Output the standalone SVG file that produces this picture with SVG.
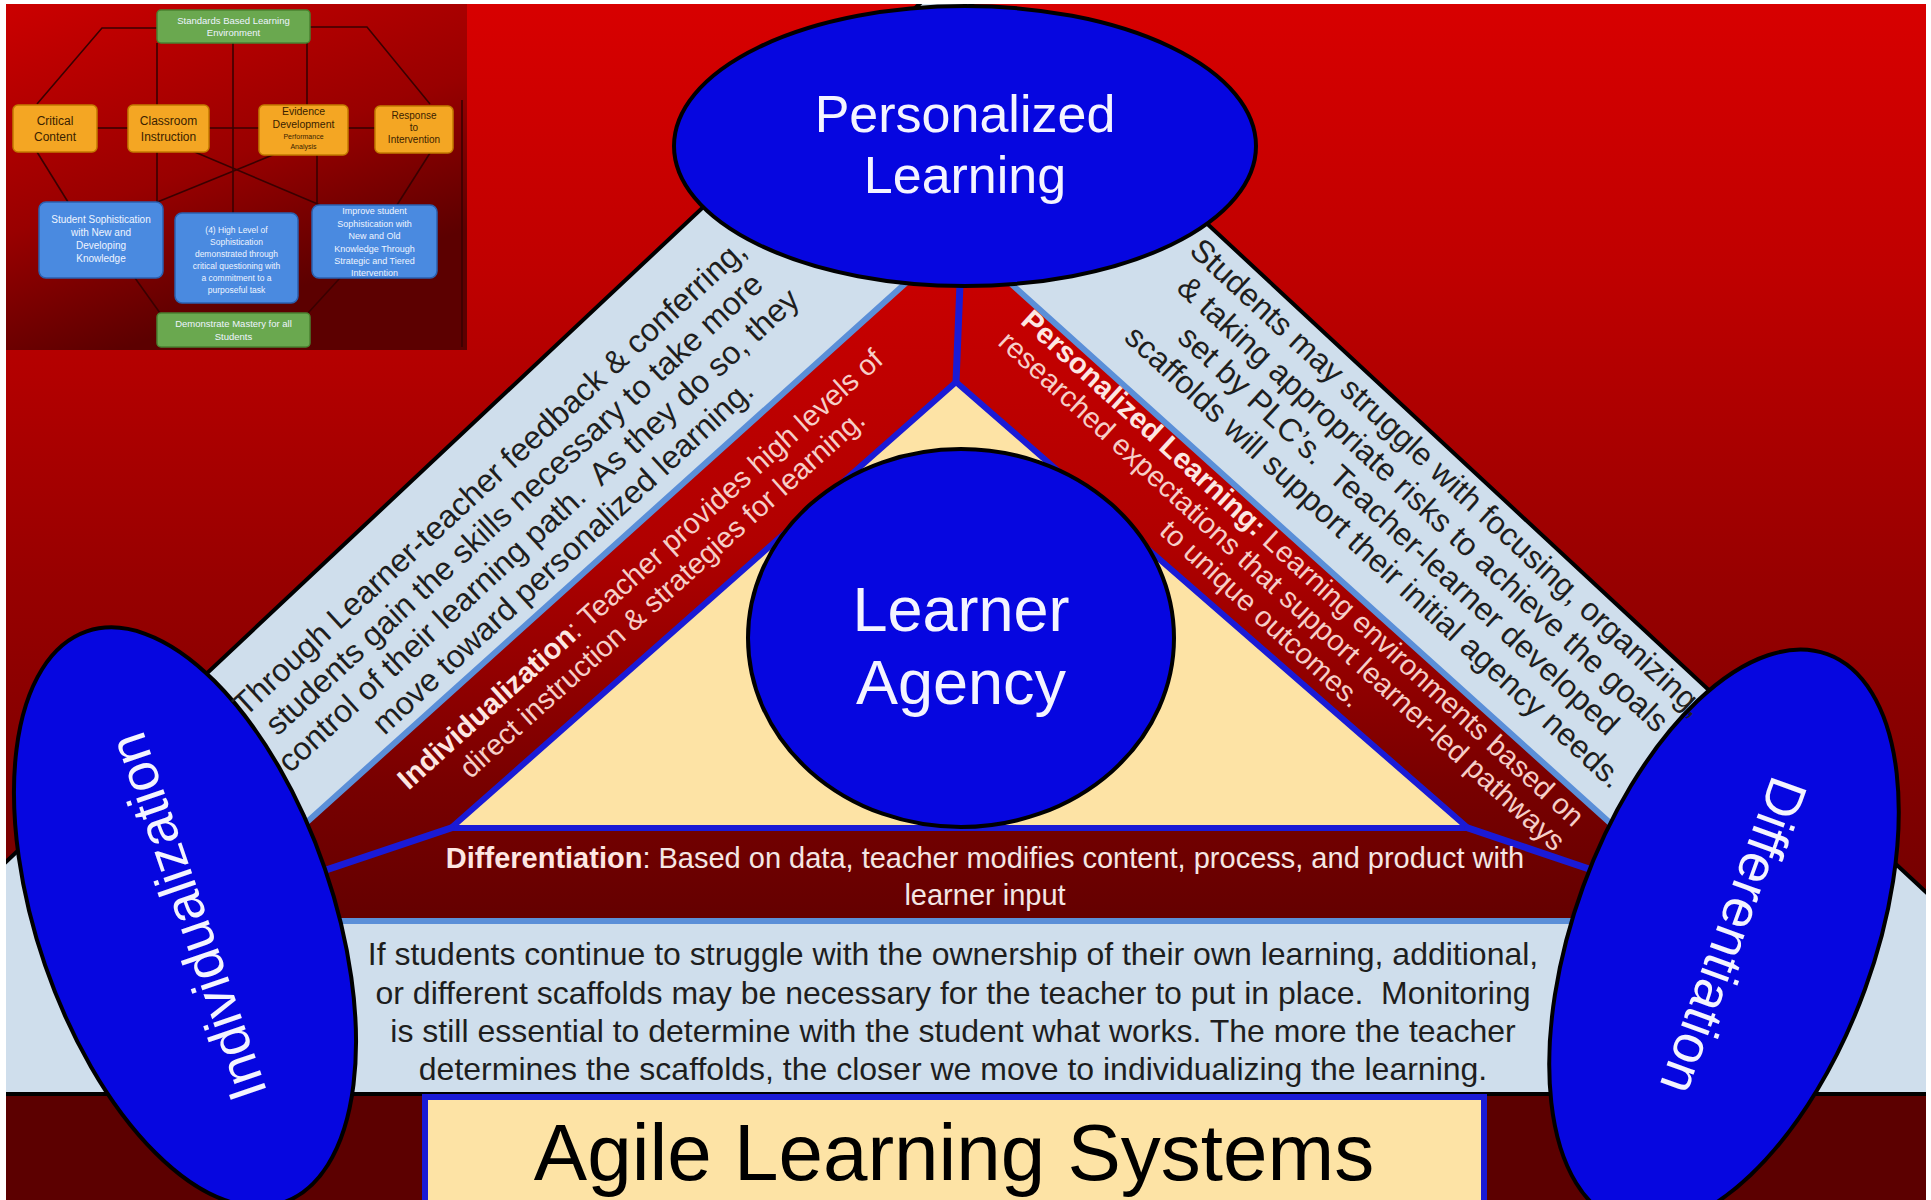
<svg xmlns="http://www.w3.org/2000/svg" width="1931" height="1200" viewBox="0 0 1931 1200">
<defs>
<linearGradient id="bg" gradientUnits="userSpaceOnUse" x1="0" y1="0" x2="0" y2="1094">
<stop offset="0" stop-color="#d80000"/><stop offset="0.25" stop-color="#bf0000"/><stop offset="0.53" stop-color="#980000"/><stop offset="1" stop-color="#600000"/>
</linearGradient>
<linearGradient id="inner" gradientUnits="userSpaceOnUse" x1="0" y1="236" x2="0" y2="921">
<stop offset="0" stop-color="#cc0000"/><stop offset="0.45" stop-color="#b00000"/><stop offset="0.8" stop-color="#780000"/><stop offset="1" stop-color="#640000"/>
</linearGradient>
<linearGradient id="insetbg" gradientUnits="userSpaceOnUse" x1="0" y1="4" x2="120" y2="350">
<stop offset="0" stop-color="#cc0000"/><stop offset="0.6" stop-color="#990000"/><stop offset="1" stop-color="#5c0000"/>
</linearGradient>
<style>
.f{font-family:"Liberation Sans",Arial,sans-serif}
.ell{fill:#0606e0;stroke:#000;stroke-width:4}
.lbl{fill:#f4f4ff;text-anchor:middle;font-family:"Liberation Sans",Arial,sans-serif}
.dark{fill:#1e1e1e;text-anchor:middle;font-family:"Liberation Sans",Arial,sans-serif;font-size:32px}
.redt{fill:#f6cec8;text-anchor:middle;font-family:"Liberation Sans",Arial,sans-serif;font-size:29px}
.b{font-weight:bold;fill:#fde6e2}
.bl{stroke:#1a1ad6;stroke-width:7;fill:none;stroke-linecap:round}
.iline{stroke:#3a0000;stroke-width:1.6;fill:none}
.org{fill:#f4a623;stroke:#c27a00;stroke-width:1.5}
.blu{fill:#4a8ae0;stroke:#2a60b0;stroke-width:1.5}
.grn{fill:#6aa84f;stroke:#4a8030;stroke-width:1.5}
.ot{fill:#3a2200;text-anchor:middle;font-family:"Liberation Sans",Arial,sans-serif}
.wt{fill:#eef4ff;text-anchor:middle;font-family:"Liberation Sans",Arial,sans-serif}
</style>
</defs>
<rect x="0" y="0" width="1931" height="1200" fill="#ffffff"/>
<rect x="0" y="0" width="1931" height="1200" fill="url(#bg)"/>

<g id="inset">
<rect x="6" y="4" width="461" height="346" fill="url(#insetbg)"/>
<g class="iline">
<polyline points="157,28 102,28 37,104"/>
<polyline points="310,27 367,27 430,104"/>
<line x1="157" y1="43" x2="157" y2="105"/>
<line x1="233" y1="43" x2="233" y2="213"/>
<line x1="307" y1="43" x2="307" y2="105"/>
<line x1="97" y1="128" x2="128" y2="128"/>
<line x1="209" y1="128" x2="259" y2="128"/>
<line x1="348" y1="128" x2="375" y2="128"/>
<line x1="190" y1="150" x2="320" y2="205"/>
<line x1="280" y1="152" x2="150" y2="205"/>
<line x1="37" y1="152" x2="68" y2="202"/>
<line x1="157" y1="152" x2="157" y2="202"/>
<line x1="317" y1="155" x2="317" y2="205"/>
<line x1="430" y1="153" x2="397" y2="205"/>
<line x1="135" y1="278" x2="160" y2="313"/>
<line x1="340" y1="278" x2="308" y2="313"/>
<line x1="462" y1="100" x2="462" y2="347"/>
</g>
<rect class="grn" x="157" y="10" width="153" height="33" rx="4"/>
<text class="wt" font-size="9.5"><tspan x="233.5" y="24">Standards Based Learning</tspan><tspan x="233.5" y="36">Environment</tspan></text>
<rect class="org" x="13" y="105" width="84" height="47" rx="5"/>
<text class="ot" font-size="12"><tspan x="55" y="125">Critical</tspan><tspan x="55" y="141">Content</tspan></text>
<rect class="org" x="128" y="105" width="81" height="47" rx="5"/>
<text class="ot" font-size="12"><tspan x="168.5" y="125">Classroom</tspan><tspan x="168.5" y="141">Instruction</tspan></text>
<rect class="org" x="259" y="105" width="89" height="50" rx="5"/>
<text class="ot" font-size="10.5"><tspan x="303.5" y="115">Evidence</tspan><tspan x="303.5" y="128">Development</tspan></text>
<text class="ot" font-size="7"><tspan x="303.5" y="139">Performance</tspan><tspan x="303.5" y="149">Analysis</tspan></text>
<rect class="org" x="375" y="106" width="78" height="47" rx="5"/>
<text class="ot" font-size="10"><tspan x="414" y="119">Response</tspan><tspan x="414" y="131">to</tspan><tspan x="414" y="143">Intervention</tspan></text>
<rect class="blu" x="39" y="202" width="124" height="76" rx="7"/>
<text class="wt" font-size="10"><tspan x="101" y="223">Student Sophistication</tspan><tspan x="101" y="236">with New and</tspan><tspan x="101" y="249">Developing</tspan><tspan x="101" y="262">Knowledge</tspan></text>
<rect class="blu" x="175" y="213" width="123" height="90" rx="7"/>
<text class="wt" font-size="8.5"><tspan x="236.5" y="233">(4) High Level of</tspan><tspan x="236.5" y="245">Sophistication</tspan><tspan x="236.5" y="257">demonstrated through</tspan><tspan x="236.5" y="269">critical questioning with</tspan><tspan x="236.5" y="281">a commitment to a</tspan><tspan x="236.5" y="293">purposeful task</tspan></text>
<rect class="blu" x="312" y="205" width="125" height="73" rx="7"/>
<text class="wt" font-size="9"><tspan x="374.5" y="214">Improve student</tspan><tspan x="374.5" y="226.5">Sophistication with</tspan><tspan x="374.5" y="239">New and Old</tspan><tspan x="374.5" y="251.5">Knowledge Through</tspan><tspan x="374.5" y="264">Strategic and Tiered</tspan><tspan x="374.5" y="276">Intervention</tspan></text>
<rect class="grn" x="157" y="313" width="153" height="34" rx="4"/>
<text class="wt" font-size="9.5"><tspan x="233.5" y="327">Demonstrate Mastery for all</tspan><tspan x="233.5" y="340">Students</tspan></text>
</g>

<g id="frame">
<rect x="0" y="1094" width="1931" height="106" fill="#5c0000"/>
<polygon points="945,-20 -10,877 -10,1094 1941,1094 1941,906" fill="#cfdeec" stroke="#000" stroke-width="4"/>
<polygon points="958,236 197,921 1719,921" fill="url(#inner)" stroke="#5b8fd8" stroke-width="6"/>
<polygon points="956,382 451,828 1468,828" fill="#fde3a5" stroke="#1a1ad6" stroke-width="6" stroke-linejoin="round"/>
</g>

<g id="connectors">
<line class="bl" x1="960" y1="284" x2="956" y2="382"/>
<line class="bl" x1="451" y1="828" x2="323" y2="871"/>
<line class="bl" x1="1468" y1="828" x2="1595" y2="871"/>
</g>

<g id="agile">
<rect x="425" y="1097" width="1059" height="120" fill="#fde3a5" stroke="#1a1ad6" stroke-width="6"/>
<text x="954" y="1180" class="f" font-size="80" text-anchor="middle" fill="#000">Agile Learning Systems</text>
</g>

<g id="learner-agency">
<ellipse class="ell" cx="961" cy="638" rx="213" ry="189"/>
<text class="lbl" font-size="63"><tspan x="961" y="631">Learner</tspan><tspan x="961" y="704">Agency</tspan></text>
</g>

<g id="personalized-learning">
<ellipse class="ell" cx="965" cy="146" rx="291" ry="140"/>
<text class="lbl" font-size="52"><tspan x="965" y="132">Personalized</tspan><tspan x="965" y="193">Learning</tspan></text>
</g>

<g id="individualization">
<ellipse class="ell" cx="0" cy="0" rx="148" ry="302" transform="translate(185,917) rotate(-19)"/>
<text class="lbl" font-size="54" x="0" y="19" transform="translate(187,917) rotate(-109)">Individualization</text>
</g>

<g id="differentiation">
<ellipse class="ell" cx="0" cy="0" rx="150" ry="302" transform="translate(1724,938) rotate(20)"/>
<text class="lbl" font-size="54" x="0" y="19" transform="translate(1734,936) rotate(110)">Differentiation</text>
</g>

<g id="left-arm-text" transform="translate(490,478) rotate(-42.7)">
<text class="dark"><tspan x="0" y="10">Through Learner-teacher feedback &amp; conferring,</tspan><tspan x="0" y="46">students gain the skills necessary to take more</tspan><tspan x="0" y="82">control of their learning path. &#160;As they do so, they</tspan><tspan x="0" y="118">move toward personalized learning.</tspan></text>
</g>

<g id="right-arm-text" transform="translate(1447,478) rotate(42.7)">
<text class="dark"><tspan x="0" y="10">Students may struggle with focusing, organizing,</tspan><tspan x="0" y="46">&amp; taking appropriate risks to achieve the goals</tspan><tspan x="0" y="82">set by PLC’s. &#160;Teacher-learner developed</tspan><tspan x="0" y="118">scaffolds will support their initial agency needs.</tspan></text>
</g>

<g id="individualization-band" transform="translate(640,569) rotate(-42)">
<text class="redt"><tspan x="0" y="10"><tspan class="b">Individualization</tspan>: Teacher provides high levels of</tspan><tspan x="0" y="43">direct instruction &amp; strategies for learning.</tspan></text>
</g>

<g id="personalized-band" transform="translate(1303,568) rotate(42.4)">
<text class="redt"><tspan x="0" y="10"><tspan class="b">Personalized Learning:</tspan> Learning environments based on</tspan><tspan x="0" y="41">researched expectations that support learner-led pathways</tspan><tspan x="0" y="72">to unique outcomes.</tspan></text>
</g>

<g id="differentiation-band">
<text class="redt" style="fill:#f4e6e4"><tspan x="985" y="868"><tspan class="b">Differentiation</tspan>: Based on data, teacher modifies content, process, and product with</tspan><tspan x="985" y="905">learner input</tspan></text>
</g>

<g id="bottom-text">
<text class="dark"><tspan x="953" y="965">If students continue to struggle with the ownership of their own learning, additional,</tspan><tspan x="953" y="1004">or different scaffolds may be necessary for the teacher to put in place. &#160;Monitoring</tspan><tspan x="953" y="1042">is still essential to determine with the student what works. The more the teacher</tspan><tspan x="953" y="1080">determines the scaffolds, the closer we move to individualizing the learning.</tspan></text>
</g>

<g id="border">
<rect x="0" y="0" width="1931" height="4" fill="#ffffff"/>
<rect x="0" y="0" width="6" height="1200" fill="#ffffff"/>
<rect x="1926" y="0" width="5" height="1200" fill="#ffffff"/>
</g>
</svg>
